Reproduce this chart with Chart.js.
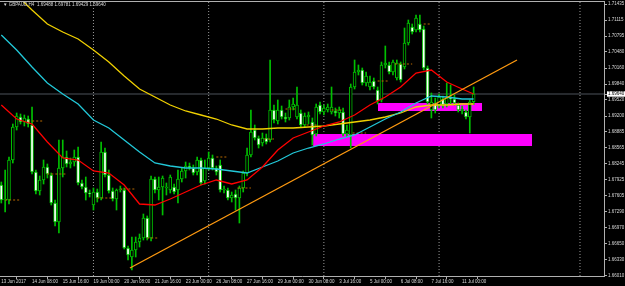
<!DOCTYPE html>
<html>
<head>
<meta charset="utf-8">
<script src="https://cdn.jsdelivr.net/npm/chart.js@4.4.0/dist/chart.umd.min.js"></script>
<style>
  html, body { margin: 0; padding: 0; background: #000; }
  canvas { display: block; background: #000; }
</style>
</head>
<body>
<canvas id="chart" width="625" height="286"></canvas>
<script>
// GBPAUD H4, one entry per bar, 13 Jun 2017 00:00 .. 11 Jul 2017 12:00
const open = [
  1.6782, 1.6752, 1.6752, 1.6832, 1.6898, 1.6918, 1.6908, 1.6914, 1.6902, 1.6808,
  1.6770, 1.6792, 1.6818, 1.6802, 1.6746, 1.6708, 1.6816, 1.6838, 1.6824, 1.6828,
  1.6838, 1.6786, 1.6778, 1.6766, 1.6742, 1.6768, 1.6756, 1.6848, 1.6802, 1.6770,
  1.6754, 1.6772, 1.6772, 1.6656, 1.6638, 1.6652, 1.6668, 1.6676, 1.6716, 1.6676,
  1.6794, 1.6772, 1.6778, 1.6776, 1.6772, 1.6778, 1.6772, 1.6794, 1.6810, 1.6820,
  1.6816, 1.6808, 1.6832, 1.6790, 1.6816, 1.6836, 1.6816, 1.6822, 1.6772, 1.6772,
  1.6756, 1.6764, 1.6756, 1.6776, 1.6806, 1.6842, 1.6892, 1.6876, 1.6866, 1.6876,
  1.6872, 1.6932, 1.6910, 1.6932, 1.6918, 1.6916, 1.6938, 1.6918, 1.6926, 1.6902,
  1.6918, 1.6908, 1.6884, 1.6942, 1.6928, 1.6932, 1.6928, 1.6930, 1.6926, 1.6928,
  1.6884, 1.6882, 1.6978, 1.7008, 1.7012, 1.6986, 1.6978, 1.6990, 1.6972, 1.6952,
  1.7022, 1.7022, 1.7008, 1.6996, 1.7024, 1.7018, 1.7066, 1.7098, 1.7092, 1.7104,
  1.7094, 1.7016, 1.6932, 1.6946, 1.6942, 1.6954, 1.6944, 1.6956, 1.6954, 1.6942,
  1.6930, 1.6928, 1.6918, 1.69488
];
const high = [
  1.6788, 1.6812, 1.6838, 1.6904, 1.6926, 1.6924, 1.6922, 1.6920, 1.6938, 1.6812,
  1.6800, 1.6832, 1.6824, 1.6806, 1.6752, 1.6872, 1.6872, 1.6850, 1.6836, 1.6852,
  1.6858, 1.6792, 1.6798, 1.6772, 1.6776, 1.6774, 1.6868, 1.6856, 1.6812, 1.6776,
  1.6774, 1.6780, 1.6776, 1.6660, 1.6678, 1.6678, 1.6684, 1.6724, 1.6720, 1.6800,
  1.6798, 1.6798, 1.6800, 1.6786, 1.6802, 1.6784, 1.6812, 1.6816, 1.6828, 1.6826,
  1.6822, 1.6838, 1.6836, 1.6832, 1.6848, 1.6842, 1.6820, 1.6832, 1.6780, 1.6776,
  1.6768, 1.6772, 1.6780, 1.6810, 1.6856, 1.6932, 1.6902, 1.6880, 1.6886, 1.6884,
  1.7032, 1.6942, 1.6952, 1.6940, 1.6926, 1.6952, 1.6956, 1.6978, 1.6932, 1.6926,
  1.6928, 1.6916, 1.6944, 1.6948, 1.6942, 1.6944, 1.6978, 1.6936, 1.6938, 1.6936,
  1.6902, 1.6984, 1.7032, 1.7022, 1.7016, 1.7008, 1.7000, 1.6996, 1.6978, 1.7028,
  1.7060, 1.7028, 1.7032, 1.7032, 1.7028, 1.7096, 1.7112, 1.7104, 1.7122, 1.7122,
  1.7100, 1.7020, 1.6966, 1.6956, 1.6964, 1.6960, 1.6986, 1.6982, 1.6962, 1.6946,
  1.6940, 1.6932, 1.6952, 1.69781
];
const low = [
  1.6746, 1.6728, 1.6744, 1.6826, 1.6892, 1.6904, 1.6900, 1.6898, 1.6804, 1.6764,
  1.6762, 1.6784, 1.6796, 1.6742, 1.6700, 1.6686, 1.6798, 1.6818, 1.6816, 1.6820,
  1.6782, 1.6774, 1.6752, 1.6758, 1.6732, 1.6748, 1.6752, 1.6798, 1.6766, 1.6750,
  1.6732, 1.6768, 1.6654, 1.6632, 1.6612, 1.6638, 1.6658, 1.6672, 1.6672, 1.6670,
  1.6766, 1.6752, 1.6722, 1.6762, 1.6766, 1.6764, 1.6746, 1.6788, 1.6796, 1.6812,
  1.6802, 1.6802, 1.6782, 1.6784, 1.6812, 1.6812, 1.6802, 1.6768, 1.6766, 1.6752,
  1.6748, 1.6732, 1.6706, 1.6768, 1.6800, 1.6838, 1.6872, 1.6856, 1.6860, 1.6864,
  1.6868, 1.6906, 1.6904, 1.6914, 1.6908, 1.6912, 1.6932, 1.6914, 1.6898, 1.6898,
  1.6904, 1.6862, 1.6880, 1.6924, 1.6922, 1.6928, 1.6924, 1.6920, 1.6916, 1.6880,
  1.6878, 1.6856, 1.6974, 1.7002, 1.6982, 1.6980, 1.6972, 1.6974, 1.6944, 1.6948,
  1.7016, 1.7004, 1.7002, 1.6992, 1.6988, 1.7014, 1.7062, 1.7084, 1.7088, 1.7088,
  1.7012, 1.6944, 1.6916, 1.6926, 1.6936, 1.6936, 1.6938, 1.6944, 1.6942, 1.6928,
  1.6924, 1.6914, 1.6886, 1.69429
];
const close = [
  1.6752, 1.6754, 1.6832, 1.6898, 1.6920, 1.6908, 1.6916, 1.6904, 1.6808, 1.6770,
  1.6792, 1.6818, 1.6804, 1.6746, 1.6708, 1.6816, 1.6838, 1.6824, 1.6828, 1.6838,
  1.6786, 1.6778, 1.6766, 1.6764, 1.6768, 1.6756, 1.6848, 1.6802, 1.6770, 1.6754,
  1.6772, 1.6774, 1.6656, 1.6642, 1.6652, 1.6668, 1.6676, 1.6716, 1.6676, 1.6794,
  1.6772, 1.6778, 1.6796, 1.6778, 1.6798, 1.6768, 1.6794, 1.6810, 1.6820, 1.6816,
  1.6806, 1.6832, 1.6786, 1.6816, 1.6836, 1.6816, 1.6808, 1.6772, 1.6774, 1.6756,
  1.6762, 1.6756, 1.6776, 1.6806, 1.6842, 1.6888, 1.6876, 1.6862, 1.6876, 1.6868,
  1.6932, 1.6912, 1.6932, 1.6918, 1.6914, 1.6938, 1.6944, 1.6942, 1.6902, 1.6920,
  1.6922, 1.6882, 1.6938, 1.6928, 1.6936, 1.6938, 1.6938, 1.6926, 1.6932, 1.6884,
  1.6892, 1.6978, 1.7008, 1.7012, 1.6986, 1.7000, 1.6988, 1.6978, 1.6950, 1.7022,
  1.7026, 1.7008, 1.7028, 1.7026, 1.6992, 1.7066, 1.7106, 1.7088, 1.7116, 1.7092,
  1.7016, 1.6948, 1.6948, 1.6932, 1.6958, 1.6942, 1.6956, 1.6954, 1.6946, 1.6932,
  1.6934, 1.6918, 1.6948, 1.69640
];

// time axis labels, one every 8 bars from bar 0
const timeLabels = [
  "13 Jun 2017", "14 Jun 08:00", "15 Jun 16:00", "19 Jun 00:00", "20 Jun 08:00",
  "21 Jun 16:00", "23 Jun 00:00", "26 Jun 08:00", "27 Jun 16:00", "29 Jun 00:00",
  "30 Jun 08:00", "3 Jul 16:00", "5 Jul 00:00", "6 Jul 08:00", "7 Jul 16:00", "11 Jul 00:00"
];
const priceTicks = [
  1.71435, 1.71115, 1.70795, 1.70480, 1.70160, 1.69840, 1.69520, 1.69200, 1.68885,
  1.68565, 1.68245, 1.67925, 1.67605, 1.67290, 1.66970, 1.66650, 1.66330, 1.66010
];
const lastPrice = 1.69640;

// moving averages, read every 4 bars (and on the last bar)
const maBars = [0, 4, 8, 12, 16, 20, 24, 28, 32, 36, 40, 44, 48, 52, 56, 60,
  64, 68, 72, 76, 80, 84, 88, 92, 96, 100, 104, 108, 112, 116, 120, 123];
const maRed = [1.6942, 1.6914, 1.6904, 1.6868, 1.6836, 1.6832, 1.6810, 1.6806, 1.6782, 1.6744,
  1.6742, 1.6754, 1.6768, 1.6782, 1.6792, 1.6784, 1.6792, 1.6818, 1.6852, 1.6876,
  1.6888, 1.6900, 1.6908, 1.6922, 1.6942, 1.6958, 1.6978, 1.7006, 1.7012, 1.6988, 1.6974, 1.6964];
const maCyan = [1.7082, 1.7052, 1.7018, 1.6986, 1.6964, 1.6944, 1.6912, 1.6896, 1.6872, 1.6848,
  1.6826, 1.6820, 1.6816, 1.6816, 1.6814, 1.6810, 1.6806, 1.6818, 1.6830, 1.6846,
  1.6856, 1.6864, 1.6874, 1.6882, 1.6898, 1.6914, 1.6928, 1.6946, 1.6960, 1.6958, 1.6954, 1.6954];
const maYellow = [1.7196, 1.7162, 1.7132, 1.7104, 1.7088, 1.7074, 1.7052, 1.7028, 1.7000, 1.6974,
  1.6958, 1.6942, 1.6930, 1.6922, 1.6914, 1.6902, 1.6894, 1.6894, 1.6896, 1.6896,
  1.6898, 1.6900, 1.6904, 1.6908, 1.6912, 1.6918, 1.6926, 1.6938, 1.6942, 1.6942, 1.6944, 1.6944];

// chart objects (bar index, price)
const trendBars = [33.5, 134.3];
const trendPrices = [1.6616, 1.7032];
const boxBars = [[98.1, 125.2], [81.2, 138.2]];
const boxPrices = [[1.6946, 1.6930], [1.6884, 1.6860]];
const separatorBars = [24, 54, 84, 114, 150.7];
// short dotted levels: start bar, end bar, price
const levels = [
  [1, 5, 1.6752], [7, 11, 1.6910], [12, 17, 1.6804], [25, 29, 1.6756], [31, 35, 1.6774],
  [38, 41, 1.6676], [56, 59, 1.6838], [61.5, 65, 1.6776], [68.5, 71, 1.6874], [74, 76.5, 1.6934],
  [79.5, 82.5, 1.6902], [86, 89, 1.6932], [91.5, 95, 1.6886], [98, 101, 1.6990],
  [102.5, 107, 1.7024], [110, 112, 1.7104]
];

const xMin = -0.34, xMax = 156.95;
const yMin = 1.6600, yMax = 1.7150;
const green = '#00c000';
const axisColor = '#b0b0b0';
const textColor = '#d8d8d8';
const smallFont = { family: 'Liberation Sans', size: 4.5 };

const idx = open.map((_, i) => i);

function line(data, color, width, order, extra) {
  return Object.assign({
    type: 'line', data, borderColor: color, borderWidth: width,
    pointRadius: 0, fill: false, tension: 0, order
  }, extra || {});
}

const datasets = [];

// weekly separators
datasets.push(line(
  separatorBars.flatMap(s => [{ x: s, y: yMin }, { x: s, y: yMax }, { x: s, y: null }]),
  '#9a9a9a', 1, 20, { borderDash: [1, 2] }));

// current price line
datasets.push(line([{ x: xMin, y: lastPrice }, { x: xMax, y: lastPrice }], '#4c535b', 1, 19));

// magenta rectangles
boxBars.forEach((b, k) => {
  datasets.push(line([{ x: b[0], y: boxPrices[k][0] }, { x: b[1], y: boxPrices[k][0] }],
    'rgba(0,0,0,0)', 1, 18, { fill: '+1', backgroundColor: '#ff00ff' }));
  datasets.push(line([{ x: b[0], y: boxPrices[k][1] }, { x: b[1], y: boxPrices[k][1] }],
    'rgba(0,0,0,0)', 1, 18));
});

// candles
datasets.push({
  type: 'bar', order: 12, grouped: false, barThickness: 1,
  data: idx.map(i => ({ x: i, y: [low[i], high[i]] })),
  backgroundColor: green
});
datasets.push({
  type: 'bar', order: 11, grouped: false, barThickness: 3, minBarLength: 1,
  data: idx.map(i => ({ x: i, y: [open[i], close[i]] })),
  backgroundColor: idx.map(i => close[i] >= open[i] ? '#000000' : '#ffffff'),
  borderColor: green, borderWidth: 1, borderSkipped: false
});

// dotted levels
datasets.push(line(
  levels.flatMap(l => [{ x: l[0], y: l[2] }, { x: l[1], y: l[2] }, { x: l[1], y: null }]),
  '#b86a00', 1, 9, { borderDash: [2, 2] }));

// moving averages
datasets.push(line(maBars.map((b, k) => ({ x: b, y: maYellow[k] })), '#f0d000', 1.3, 5));
datasets.push(line(maBars.map((b, k) => ({ x: b, y: maCyan[k] })), '#22c8d8', 1.3, 4));
datasets.push(line(maBars.map((b, k) => ({ x: b, y: maRed[k] })), '#ff0000', 1.3, 3));

// trend line
datasets.push(line(trendBars.map((b, k) => ({ x: b, y: trendPrices[k] })), '#ff9a10', 1.3, 1));

const frame = {
  id: 'frame',
  afterDraw(chart) {
    const { ctx, chartArea: a } = chart;
    ctx.save();
    ctx.strokeStyle = axisColor;
    ctx.lineWidth = 1;
    ctx.beginPath();
    ctx.moveTo(a.left, a.top + 0.5);
    ctx.lineTo(a.right, a.top + 0.5);
    ctx.stroke();
    const n = close.length - 1;
    ctx.fillStyle = textColor;
    ctx.font = '4.5px "Liberation Sans"';
    ctx.textBaseline = 'middle';
    ctx.fillText('\u25BC GBPAUD,H4  ' +
      [open[n], high[n], low[n], close[n]].map(v => v.toFixed(5)).join(' '), 3, 5);
    ctx.restore();
  }
};

new Chart(document.getElementById('chart'), {
  type: 'bar',
  data: { datasets },
  plugins: [frame],
  options: {
    responsive: false,
    animation: false,
    devicePixelRatio: 1,
    layout: { padding: { top: 1, left: 0, right: 0, bottom: 0 } },
    plugins: { legend: { display: false }, tooltip: { enabled: false } },
    scales: {
      x: {
        type: 'linear', min: xMin, max: xMax, offset: false, bounds: 'data',
        afterBuildTicks: s => { s.ticks = timeLabels.map((_, k) => ({ value: k * 8 })); },
        afterFit: s => { s.height = 10; s.paddingLeft = 0; s.paddingRight = 0; },
        ticks: {
          autoSkip: false, maxRotation: 0, minRotation: 0, align: 'start', padding: 0,
          color: textColor, font: smallFont,
          callback: (v, k) => timeLabels[k]
        },
        grid: { drawOnChartArea: false, drawTicks: true, tickLength: 3, color: axisColor },
        border: { color: axisColor }
      },
      y: {
        type: 'linear', position: 'right', min: yMin, max: yMax, bounds: 'data',
        afterBuildTicks: s => { s.ticks = priceTicks.concat([lastPrice]).map(v => ({ value: v })); },
        afterFit: s => { s.width = 21; s.paddingTop = 0; s.paddingBottom = 0; },
        ticks: {
          padding: 1, font: smallFont,
          color: c => (c.tick && c.tick.value === lastPrice) ? '#000000' : textColor,
          showLabelBackdrop: c => !!(c.tick && c.tick.value === lastPrice),
          backdropColor: '#ffffff',
          backdropPadding: { top: 0, bottom: 0, left: 1, right: 1 },
          callback: v => v.toFixed(5)
        },
        grid: { drawOnChartArea: false, drawTicks: true, tickLength: 3, color: axisColor },
        border: { color: axisColor }
      }
    }
  }
});
</script>
</body>
</html>
